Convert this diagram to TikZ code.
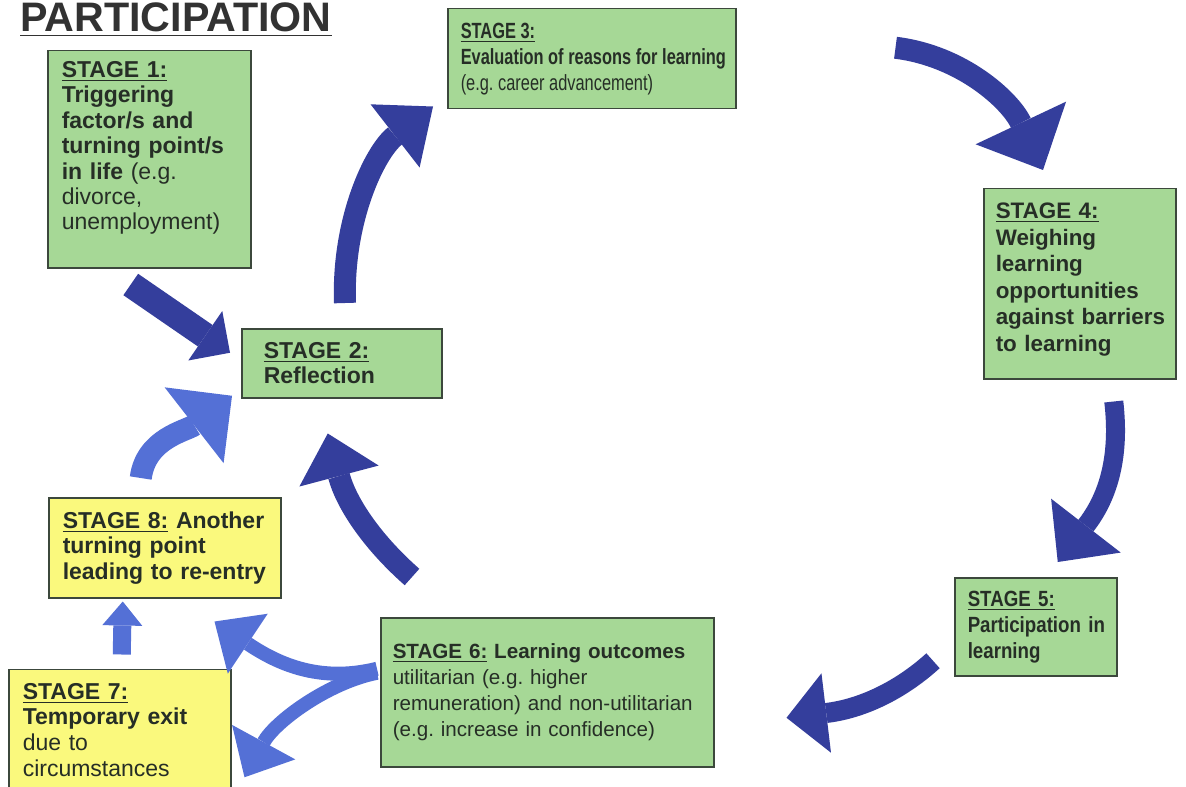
\documentclass[tikz,border=0pt]{standalone}
\usepackage{fontspec}
\setmainfont{Liberation Sans}
\newfontfamily\narrowfont[FakeStretch=0.745]{Liberation Sans}
\newfontfamily\semifont[FakeStretch=0.85]{Liberation Sans}
\usepackage{tikz}
\usetikzlibrary{arrows.meta}
\usetikzlibrary{positioning, calc}

\definecolor{stagegreen}{RGB}{166,216,150}
\definecolor{exityellow}{RGB}{250,249,125}
\definecolor{boxline}{RGB}{60,72,60}
\definecolor{textgrey}{RGB}{38,46,38}
\definecolor{titlegrey}{RGB}{50,50,50}
\definecolor{arrowdark}{RGB}{52,62,156}
\definecolor{arrowlight}{RGB}{84,112,214}

\newcommand{\lift}[1]{\rule[-#1]{0pt}{0pt}}
\newcommand{\tightspace}{\spaceskip=2.3pt\relax}
\hyphenpenalty=10000
\exhyphenpenalty=10000

\begin{document}
\frenchspacing
\begin{tikzpicture}[x=0.5pt, y=-0.5pt]
\tikzstyle{stage} = [rectangle, draw=boxline, line width=0.75pt, fill=stagegreen, anchor=north west, align=left, inner ysep=0pt, inner xsep=7pt, text=textgrey, font=\bfseries\fontsize{11.5}{12.7}\selectfont]
\tikzstyle{reentry} = [stage, fill=exityellow]
\tikzstyle{looparrow} = [draw=arrowdark, line width=11pt]
\tikzstyle{exitarrow} = [draw=arrowlight, line width=7pt]

\fill[white] (0,0) rectangle (1186,786);
\useasboundingbox (0,0) rectangle (1186,786);

% Title
\node (title) [anchor=base west, inner sep=0pt, text=titlegrey, font=\bfseries\fontsize{20.6}{24}\selectfont] at (20,32) {\underline{PARTICIPATION}};

% Nodes
\node (s1) [stage, text width=87.5pt, minimum height=108.5pt] at (47,50) {\underline{STAGE 1:}\\Triggering\\factor/s and\\turning point/s\\in life \textmd{(e.g.}\\\textmd{divorce,}\\\textmd{unemployment)}\lift{13.5pt}};
\node (s2) [stage, inner xsep=11pt, text width=78pt, minimum height=34.5pt] at (241,328) {\underline{STAGE 2:}\\Reflection};
\node (s3) [stage, inner xsep=6.5pt, text width=131pt, minimum height=50pt, font=\narrowfont\bfseries\fontsize{11}{13}\selectfont] at (447,8) {\tightspace\underline{STAGE 3:}\\Evaluation~of~reasons~for~learning\\\textmd{(e.g.~career~advancement)}};
\node (s4) [stage, inner xsep=6pt, text width=84pt, minimum height=95pt, font=\bfseries\fontsize{11.2}{13.3}\selectfont] at (983,188) {\underline{STAGE 4:}\\Weighing\\learning\\opportunities\\against~barriers\\to learning\lift{6.5pt}};
\node (s5) [stage, inner xsep=6.5pt, text width=68pt, minimum height=49pt, font=\semifont\bfseries\fontsize{11}{13}\selectfont] at (954,577) {\underline{STAGE 5:}\\Participation~in\\learning};
\node (s6) [stage, inner xsep=6pt, text width=154.5pt, minimum height=74.5pt, font=\bfseries\fontsize{10.3}{13}\selectfont] at (380,617) {\underline{STAGE 6:} Learning outcomes\\\textmd{utilitarian (e.g. higher}\\\textmd{remuneration) and non-utilitarian}\\\textmd{(e.g. increase in confidence)}};
\node (s8) [reentry, text width=102pt, minimum height=50pt] at (48,497) {\underline{STAGE 8:} Another\\turning point\\leading~to~re-entry};
\node (s7) [reentry, below=35pt of s8.south west, anchor=north west, xshift=-20pt, text width=97pt, minimum height=60.5pt, font=\bfseries\fontsize{11.5}{12.8}\selectfont] {\underline{STAGE 7:}\\Temporary exit\\\textmd{due to}\\\textmd{circumstances}};

% Arrows
\draw [looparrow, line width=13pt, -{Triangle[width=30pt,length=15pt,line width=0pt]}] ($(s1.south)+(-18.5,16)$) -- ($(s2.west)+(-11,-10.5)$);
\draw [looparrow, -{Triangle[width=40pt,length=24pt,line width=0pt]}] ($(s2.north west)+(104,-25)$) .. controls +(-3,-83) and +(-58,45) .. ($(s3.south west)+(-14,-3)$);
\draw [looparrow, -{Triangle[width=50pt,length=26pt,line width=0pt]}] ($(s3.east)+(159,-11)$) .. controls +(66,8) and +(-33,-70) .. ($(s4.north west)+(60,-18)$);
\draw [looparrow, line width=9.5pt, -{Triangle[width=44pt,length=23pt,line width=0pt]}] ($(s4.south)+(34,22)$) .. controls +(7,60) and +(48,-62) .. ($(s5.north)+(22,-15)$);
\draw [looparrow, line width=10pt, -{Triangle[width=40pt,length=20pt,line width=0pt]}] ($(s5.west)+(-21,34)$) .. controls +(-33,30) and +(75,-9) .. ($(s6.east)+(72,25.5)$);
\draw [looparrow, -{Triangle[width=41pt,length=22pt,line width=0pt]}] ($(s6.north west)+(32,-40)$) .. controls +(-42,-37) and +(18,68) .. ($(s2.south)+(-14,35)$);
\draw [exitarrow, line width=11pt, -{Triangle[width=48pt,length=24pt,line width=0pt]}] ($(s8.north)+(-24,-19)$) .. controls +(5,-40) and +(-45,35) .. ($(s2.west)+(-9,32.5)$);
\draw [exitarrow, line width=9pt, -{Triangle[width=20pt,length=12pt,line width=0pt]}] ($(s7.north)+(2,-14)$) -- ($(s8.south)+(-42,3)$);
\draw [exitarrow, -{Triangle[width=36pt,length=20pt,line width=0pt]}] ($(s6.west)+(-3,-23.5)$) .. controls +(-60,15) and +(60,40) .. ($(s8.south east)+(-67,23)$);
\draw [exitarrow, -{Triangle[width=36pt,length=20pt,line width=0pt]}] ($(s6.west)+(-3,-19.5)$) .. controls +(-50,10) and +(30,-55) .. ($(s7.east)+(13,47.5)$);

\end{tikzpicture}
\end{document}
